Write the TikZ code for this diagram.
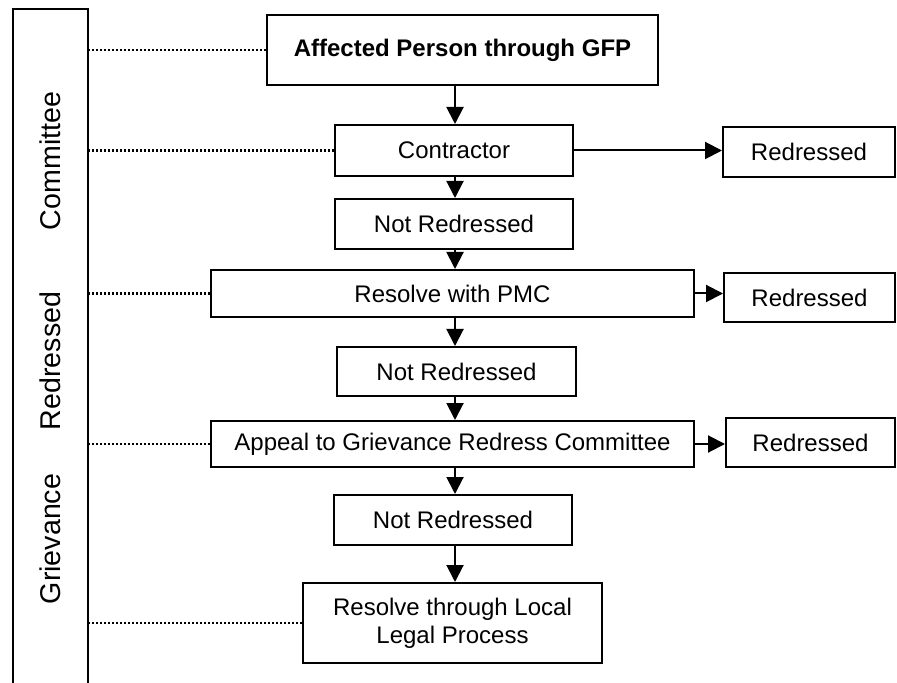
\documentclass[tikz,border=0pt]{standalone}
\usepackage{fontspec}
\setmainfont{Liberation Sans}
\usetikzlibrary{arrows.meta}
\begin{document}
\begin{tikzpicture}[x=0.5pt, y=-0.5pt, line width=1pt,
    box/.style={draw, inner sep=0pt, align=center, font=\fontsize{12}{14}\selectfont},
    lane/.style={rotate=90, font=\fontsize{14.3}{17}\selectfont},
    flow/.style={-{Triangle[length=8.5pt,width=8.5pt]}},
    guide/.style={line width=1.2pt, dash pattern=on 1.1pt off 0.9pt}]
  \useasboundingbox (0,0) rectangle (897,683);
  % Side column
  \draw (13,683) -- (13,9) -- (88,9) -- (88,683);
  \node[lane] (lcom) at (50,161) {Committee};
  \node[lane] (lred) at (50,361) {Redressed};
  \node[lane] (lgri) at (50,539) {Grievance};
  \coordinate (cr) at (88,0); % right side of the column
  \coordinate (ax) at (455,0); % axis of the main flow
  % Main flow
  \node[box, minimum width=195.5pt, minimum height=35pt] (gfp) at (462.5,50) {\bfseries Affected Person through GFP};
  \node[box, minimum width=119pt, minimum height=25.5pt] (con) at (454,150.5) {Contractor};
  \node[box, minimum width=119pt, minimum height=25pt] (nr1) at (454,224) {Not Redressed};
  \node[box, minimum width=241.5pt, minimum height=23.5pt] (pmc) at (452.5,293.5) {Resolve with PMC};
  \node[box, minimum width=119.5pt, minimum height=24.5pt] (nr2) at (456.5,371.5) {Not Redressed};
  \node[box, minimum width=241.5pt, minimum height=23pt] (app) at (452.5,444) {Appeal to Grievance Redress Committee};
  \node[box, minimum width=119pt, minimum height=25pt] (nr3) at (453,520) {Not Redressed};
  \node[box, minimum width=149.5pt, minimum height=40pt] (leg) at (452.5,623) {Resolve through Local\\Legal Process};
  % Outcomes
  \node[box, minimum width=86pt, minimum height=25pt] (red1) at (809,152) {Redressed};
  \node[box, minimum width=85.5pt, minimum height=24.5pt] (red2) at (809.5,297.5) {Redressed};
  \node[box, minimum width=84.5pt, minimum height=24.5pt] (red3) at (810.5,442.5) {Redressed};
  % Arrows
  \draw[flow] (gfp.south -| ax) -- (con.north -| ax);
  \draw[flow] (con.south -| ax) -- (nr1.north -| ax);
  \draw[flow] (nr1.south -| ax) -- (pmc.north -| ax);
  \draw[flow] (pmc.south -| ax) -- (nr2.north -| ax);
  \draw[flow] (nr2.south -| ax) -- (app.north -| ax);
  \draw[flow] (app.south -| ax) -- (nr3.north -| ax);
  \draw[flow] (nr3.south -| ax) -- (leg.north -| ax);
  \draw[flow] (con.east) -- (red1.west |- con.east);
  \draw[flow] (pmc.east) -- (red2.west |- pmc.east);
  \draw[flow] (app.east) -- (red3.west |- app.east);
  % Dotted guides to the column
  \draw[guide] (gfp.west) -- (gfp.west -| cr);
  \draw[guide] (con.west) -- (con.west -| cr);
  \draw[guide] (pmc.west) -- (pmc.west -| cr);
  \draw[guide] (app.west) -- (app.west -| cr);
  \draw[guide] (leg.west) -- (leg.west -| cr);
\end{tikzpicture}
\end{document}
